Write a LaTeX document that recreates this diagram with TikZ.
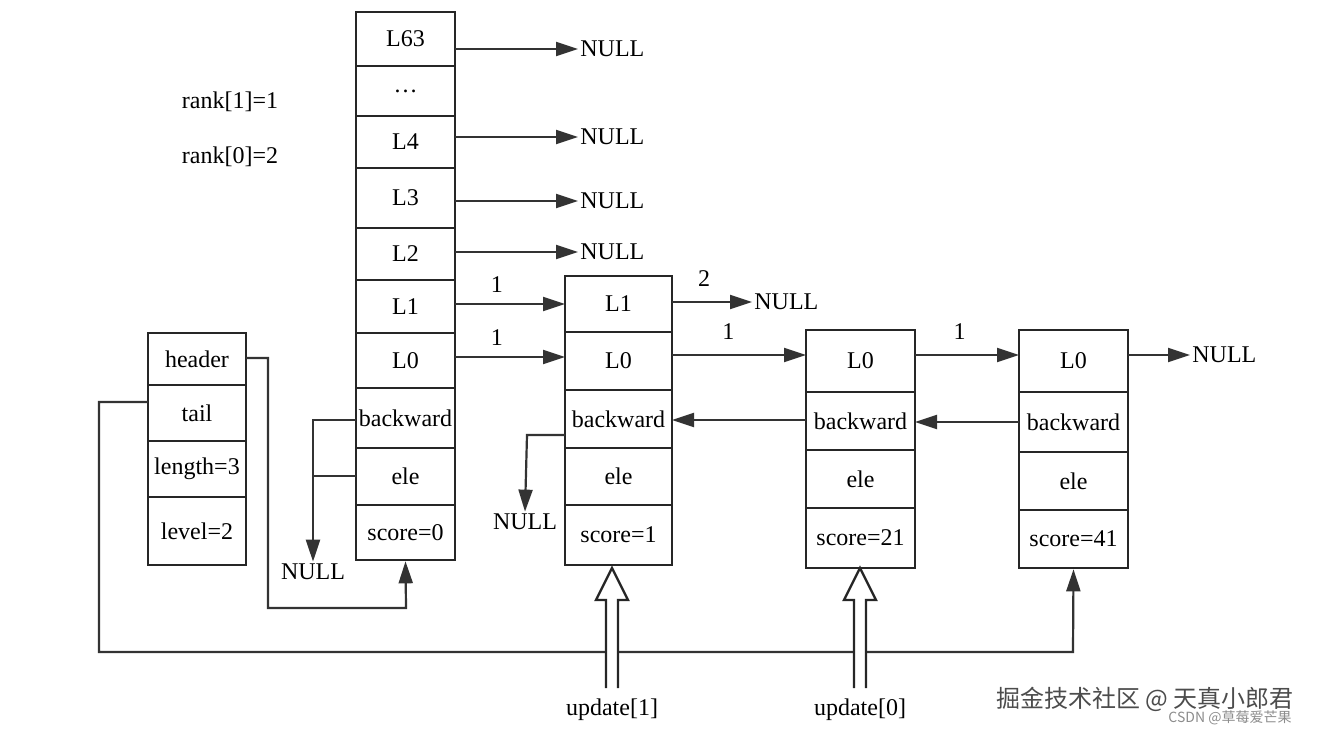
\documentclass[tikz,border=0pt]{standalone}
\usepackage{fontspec}
\setmainfont{Liberation Serif}
\newfontfamily\cjk{Noto Sans CJK SC}
\usetikzlibrary{arrows.meta}
\begin{document}
\begin{tikzpicture}[x=0.5pt,y=-0.5pt,
  cell/.style={draw=black!85,line width=1.3pt,minimum width=#1*0.5pt,inner sep=0pt,font=\fontsize{12}{12}\selectfont},
  ln/.style={line width=1.1pt,draw=black!80,-{Triangle[length=11pt,width=7pt]}},
  pl/.style={line width=1.1pt,draw=black!80},
  t/.style={font=\fontsize{12}{12}\selectfont,inner sep=1pt}]
\useasboundingbox (0,0) rectangle (1334,735);
\newcommand{\cellbox}[6]{\node[cell=#3,minimum height=(#5-#4)*0.5pt] (#1) at ({#2},{(#4+#5)/2}) {#6};}
% header column
\cellbox{h63}{405.5}{99}{12}{66}{L63}
\cellbox{hd}{405.5}{99}{66}{116}{\dots}
\cellbox{h4}{405.5}{99}{116}{168}{L4}
\cellbox{h3}{405.5}{99}{168}{228}{L3}
\cellbox{h2}{405.5}{99}{228}{280}{L2}
\cellbox{h1}{405.5}{99}{280}{333}{L1}
\cellbox{h0}{405.5}{99}{333}{388}{L0}
\cellbox{hb}{405.5}{99}{388}{448}{backward}
\cellbox{he}{405.5}{99}{448}{505}{ele}
\cellbox{hs}{405.5}{99}{505}{560}{score=0}
% node 1
\cellbox{a1}{618.5}{107}{276}{332}{L1}
\cellbox{a0}{618.5}{107}{332}{390}{L0}
\cellbox{ab}{618.5}{107}{390}{448}{backward}
\cellbox{ae}{618.5}{107}{448}{505}{ele}
\cellbox{as}{618.5}{107}{505}{565}{score=1}
% node 2
\cellbox{b0}{860.5}{109}{330}{392}{L0}
\cellbox{bb}{860.5}{109}{392}{450}{backward}
\cellbox{be}{860.5}{109}{450}{508}{ele}
\cellbox{bs}{860.5}{109}{508}{568}{score=21}
% node 3
\cellbox{c0}{1073.5}{109}{330}{392}{L0}
\cellbox{cb}{1073.5}{109}{392}{452}{backward}
\cellbox{ce}{1073.5}{109}{452}{510}{ele}
\cellbox{cs}{1073.5}{109}{510}{568}{score=41}
% struct
\cellbox{sh}{197}{98}{333}{385}{header}
\cellbox{st}{197}{98}{385}{441}{tail}
\cellbox{sl}{197}{98}{441}{497}{length=3}
\cellbox{sv}{197}{98}{497}{565}{level=2}
% rank
\node[t] (r1) at (230,102) {rank[1]=1};
\node[t] (r0) at (230,157) {rank[0]=2};
% NULL arrows from header
\node[t,anchor=west] (n63) at (578,49) {NULL};
\node[t,anchor=west] (n4) at (578,137) {NULL};
\node[t,anchor=west] (n3) at (578,201) {NULL};
\node[t,anchor=west] (n2) at (578,252) {NULL};
\draw[ln] (455,49) -- (n63.west);
\draw[ln] (455,137) -- (n4.west);
\draw[ln] (455,201) -- (n3.west);
\draw[ln] (455,252) -- (n2.west);
% level links
\draw[ln] (455,304) -- (565,304) node[t,pos=0.38,above=4pt] {1};
\draw[ln] (455,357) -- (565,357) node[t,pos=0.38,above=4pt] {1};
\node[t,anchor=west] (n1) at (752,302) {NULL};
\draw[ln] (672,302) -- (n1.west) node[t,pos=0.4,above=6pt] {2};
\draw[ln] (672,355) -- (806,355) node[t,pos=0.42,above=6pt] {1};
\draw[ln] (915,355) -- (1019,355) node[t,pos=0.43,above=6pt] {1};
\node[t,anchor=west] (nc) at (1190,355) {NULL};
\draw[ln] (1128,355) -- (nc.west);
% backward
\draw[ln] (806,420) -- (672,420);
\draw[ln] (1019,422) -- (915,422);
\node[t] (nb1) at (525,522) {NULL};
\draw[ln] (565,435) -- (527,435) -- (nb1.north);
\node[t] (nb0) at (313,572) {NULL};
\draw[ln] (356,420) -- (313,420) -- (nb0.north);
\draw[pl] (313,476) -- (356,476);
% header/tail
\draw[ln] (246,358) -- (268,358) -- (268,608) -- (406,608) -- (hs.south);
\draw[ln] (148,402) -- (99,402) -- (99,652) -- (1073,652) -- (cs.south);
% update arrows
\foreach \x/\nm/\lb/\tgt in {612/u1/update[1]/as,860/u0/update[0]/bs}{
  \node[t] (\nm) at (\x,710) {\lb};
  \fill[white] (\x-6,640) rectangle (\x+6,664);
  \draw[line width=1.2pt,draw=black!85,fill=white] (\x-6,688) -- (\x-6,600) -- (\x-16,600) -- (\x,568) -- (\x+16,600) -- (\x+6,600) -- (\x+6,688);
}
\node[font=\cjk\fontsize{12}{12}\selectfont,text=black!70] (wm) at (1145,699) {掘金技术社区 @ 天真小郎君};
\node[font=\cjk\fontsize{7}{7}\selectfont,text=black!45] (wm2) at (1230,718) {CSDN @草莓爱芒果};
\end{tikzpicture}
\end{document}
